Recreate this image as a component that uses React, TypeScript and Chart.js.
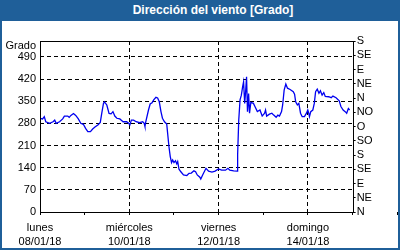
import React, { useEffect, useRef } from 'react';
import { Chart, registerables } from 'chart.js';

Chart.register(...registerables);

const titleText = 'Dirección del viento [Grado]';

const hours = [
  0, 1.4, 2.3, 3.1, 5.2, 7, 7.9, 8.7, 10.5, 12.2, 13.1, 14.9, 15.7, 16.6, 18, 19.2, 20.6, 21.9, 23.3,
  24.5, 25.7, 27.1, 28.3, 29.7, 31.1, 32.4, 33.2, 34.1, 34.6, 35.9, 37.1, 38.2, 39.2, 40.2, 41.3, 42.9,
  43.7, 44.7, 46.5, 47.7, 48.3, 49.1, 50.3, 51.7, 53.5, 55.2, 56.0, 56.4, 56.8, 58.3, 59.2, 60.2, 61.1,
  62.3, 63.2, 64.1, 65, 65.8, 66.9, 68.1, 68.6, 69.3, 70, 70.7, 71.3, 72, 72.8, 73.5, 74, 74.7, 75.7,
  77.1, 78.9, 80.1, 81.3, 82.7, 83.6, 84.5, 85.9, 86.4, 87.4, 89.2, 90.6, 92.4, 94.1, 95.9, 97.6, 99.7,
  101, 102, 104.1, 106, 106.2, 106.8, 107.5, 108.2, 108.9, 109.4, 110, 110.5, 111, 111.5, 112.1, 112.6,
  113.3, 114.7, 115.5, 116.8, 118.2, 119.4, 120.7, 121.2, 121.8, 123.3, 124.6, 125.6, 126.9, 127.8,
  128.7, 129.8, 130.4, 131.2, 132.1, 133, 134.4, 136.1, 136.8, 137.4, 138.3, 139.1, 140, 140.9, 142.1,
  143.2, 143.9, 144.4, 144.8, 145.5, 146.6, 147.4, 148.1, 149, 149.9, 150.7, 151.6, 152.5, 153.3,
  155.1, 156.5, 157.4, 159.1, 160.8, 161.7, 162.9, 164, 164.8, 165.7, 166.4,
];

const direction = [
  296, 294, 301, 285, 280, 285, 290, 280, 285, 294, 303, 303, 299, 305, 311, 305, 294, 280, 277,
  264, 254, 254, 262, 269, 275, 283, 312, 343, 348, 338, 311, 310, 317, 303, 296, 294,
  290, 285, 285, 280, 275, 290, 290, 285, 282, 285, 280, 270, 284, 322, 341, 345, 354,
  362, 360, 348, 317, 296, 285, 278, 248, 206, 175, 156, 164, 156, 162, 152, 159, 135, 127,
  117, 115, 122, 123, 130, 127, 117, 110, 104, 117, 138, 129, 126, 129, 136, 132, 132,
  138, 132, 130, 129, 180, 290, 354, 369, 396, 411, 343, 380, 427, 317, 374, 312,
  346, 343, 333, 317, 322, 303, 312, 322, 303, 309, 312, 306, 299, 306,
  303, 317, 338, 385, 404, 391, 387, 380, 372, 348, 338, 343, 312, 301, 301,
  312, 322, 312, 301, 317, 322, 343, 380, 388, 375, 383, 369, 377, 365,
  364, 361, 366, 361, 351, 333, 322, 317, 312, 327, 322,
];

const dayNames = ['lunes', '', 'miércoles', '', 'viernes', '', 'domingo', '', ''];
const dayDates = ['08/01/18', '', '10/01/18', '', '12/01/18', '', '14/01/18', '', ''];
const dayGridHours = [48, 96, 144];
const degreeTicks = [0, 70, 140, 210, 280, 350, 420, 490];
const unitLabel = 'Grado';
const unitLabelValue = 524;
const compassLabels = ['N', 'NE', 'E', 'SE', 'S', 'SO', 'O', 'NO', 'N', 'NE', 'E', 'SE', 'S'];

const BLUE = '#1f5f99';
const FONT = 'Liberation Sans';
const CLEAR = 'rgba(0,0,0,0)';

const framePlugin = {
  id: 'frame',
  afterDatasetsDraw(chart: any) {
    const { ctx, chartArea } = chart;
    ctx.save();
    ctx.strokeStyle = '#000';
    ctx.lineWidth = 1;
    ctx.setLineDash([]);
    const l = Math.round(chartArea.left) + 0.5;
    const t = Math.round(chartArea.top) + 0.5;
    const r = Math.round(chartArea.right) + 0.5;
    const b = Math.round(chartArea.bottom) + 0.5;
    ctx.strokeRect(l, t, r - l, b - t);
    ctx.restore();
  },
};

export default function App() {
  const canvasRef = useRef<HTMLCanvasElement | null>(null);

  useEffect(() => {
    if (!canvasRef.current) return;
    const chart = new Chart(canvasRef.current, {
      type: 'line',
      data: {
        datasets: [
          {
            data: hours.map((h, i) => ({ x: h, y: direction[i] })),
            borderColor: '#0000f0',
            borderWidth: 1.3,
            pointRadius: 0,
            tension: 0,
            yAxisID: 'y',
          },
        ],
      },
      options: {
        responsive: false,
        animation: false,
        events: [],
        layout: { padding: { top: 20, left: 0, right: 0, bottom: 0 } },
        plugins: { legend: { display: false }, tooltip: { enabled: false }, title: { display: false } },
        font: { family: FONT, size: 11 },
        scales: {
          x: {
            type: 'linear',
            position: 'bottom',
            min: 0,
            max: 168,
            afterBuildTicks: (s: any) => {
              s.ticks = dayNames.map((_, i) => ({ value: i * 24 }));
            },
            afterFit: (s: any) => {
              s.height = 36;
            },
            ticks: {
              autoSkip: false,
              maxRotation: 0,
              padding: 6,
              color: '#000',
              font: { family: FONT, size: 11, lineHeight: 1.27 },
              callback: (_v: any, i: number) => (dayNames[i] ? [dayNames[i], dayDates[i]] : ''),
            },
            grid: {
              color: (c: any) => (c.tick && dayGridHours.includes(c.tick.value) ? '#000' : CLEAR),
              tickColor: '#000',
              tickLength: 3,
              lineWidth: 1,
            },
            border: { display: false, dash: [4, 3] },
          },
          y: {
            type: 'linear',
            position: 'left',
            min: 0,
            max: 540,
            afterBuildTicks: (s: any) => {
              s.ticks = degreeTicks.map((v) => ({ value: v })).concat([{ value: unitLabelValue }]);
            },
            afterFit: (s: any) => {
              s.width = 38;
            },
            ticks: {
              autoSkip: false,
              padding: 4,
              color: '#000',
              font: { family: FONT, size: 11 },
              callback: (v: any) => (v === unitLabelValue ? unitLabel : String(v)),
            },
            grid: {
              drawTicks: false,
              color: (c: any) => (c.tick && c.tick.value > 0 && c.tick.value <= 490 ? '#000' : CLEAR),
              lineWidth: 1,
            },
            border: { display: false, dash: [4, 3] },
          },
          y2: {
            type: 'linear',
            position: 'right',
            min: 0,
            max: 540,
            afterBuildTicks: (s: any) => {
              s.ticks = compassLabels.map((_, i) => ({ value: i * 45 }));
            },
            afterFit: (s: any) => {
              s.width = 37;
            },
            ticks: {
              autoSkip: false,
              padding: 1,
              color: '#000',
              font: { family: FONT, size: 11 },
              callback: (_v: any, i: number) => compassLabels[i],
            },
            grid: {
              drawOnChartArea: false,
              tickColor: '#000',
              tickLength: 3,
              lineWidth: 1,
            },
            border: { display: false },
          },
        },
      } as any,
      plugins: [framePlugin],
    });
    return () => chart.destroy();
  }, []);

  return (
    <div
      style={{
        position: 'absolute',
        left: 0,
        top: 0,
        width: 400,
        height: 250,
        background: BLUE,
        fontFamily: FONT,
      }}
    >
      <div
        style={{
          height: 21,
          lineHeight: '21px',
          color: '#fff',
          fontWeight: 'bold',
          fontSize: 12,
          textAlign: 'center',
          paddingLeft: 26,
          boxSizing: 'border-box',
        }}
      >
        {titleText}
      </div>
      <div style={{ position: 'absolute', left: 2, top: 21, width: 396, height: 227, background: '#fff' }}>
        <canvas ref={canvasRef} width={396} height={227} style={{ display: 'block' }} />
      </div>
    </div>
  );
}
